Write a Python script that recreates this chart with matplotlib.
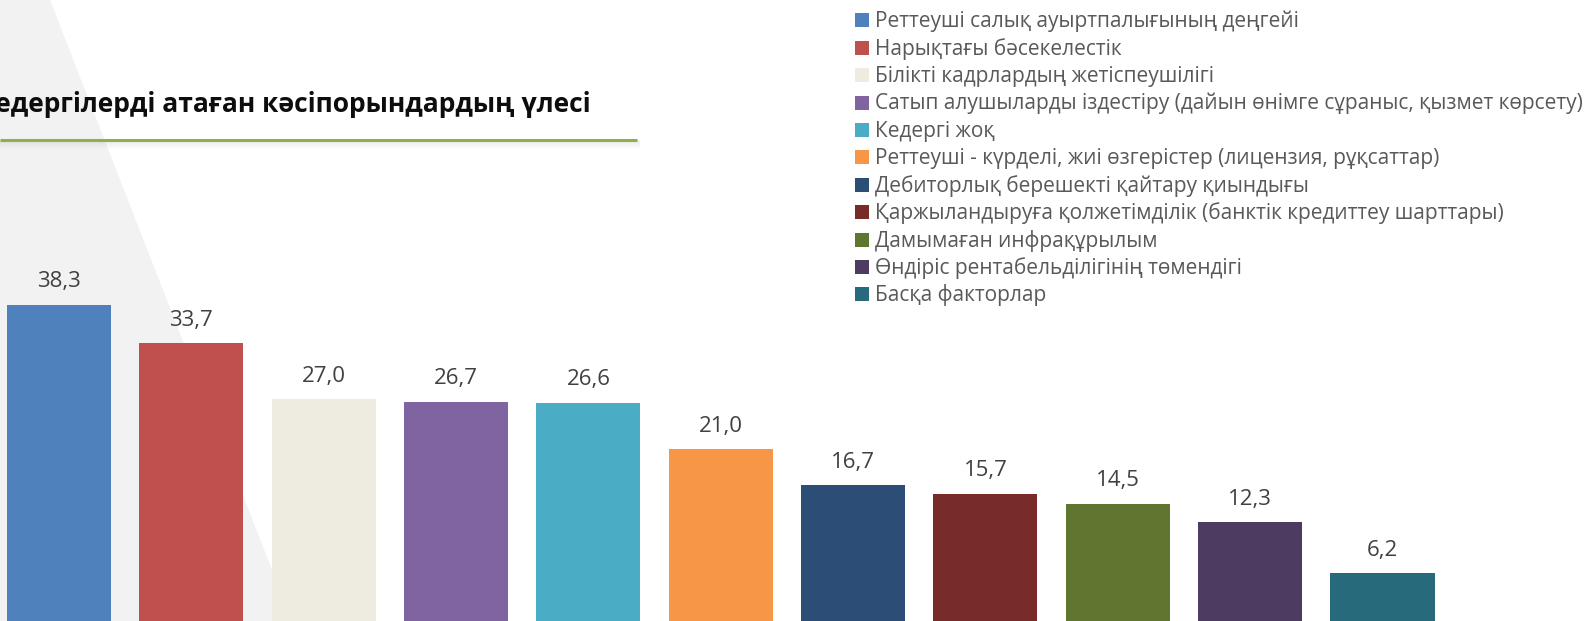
import numpy as np
import matplotlib
matplotlib.use("Agg")
import matplotlib.pyplot as plt
from matplotlib.patches import Polygon, Rectangle

plt.rcParams['font.family'] = ['Open Sans', 'Noto Sans', 'DejaVu Sans']

title = "кедергілерді атаған кәсіпорындардың үлесі"
categories = [
    "Реттеуші салық ауыртпалығының деңгейі",
    "Нарықтағы бәсекелестік",
    "Білікті кадрлардың жетіспеушілігі",
    "Сатып алушыларды іздестіру (дайын өнімге сұраныс, қызмет көрсету)",
    "Кедергі жоқ",
    "Реттеуші - күрделі, жиі өзгерістер (лицензия, рұқсаттар)",
    "Дебиторлық берешекті қайтару қиындығы",
    "Қаржыландыруға қолжетімділік (банктік кредиттеу шарттары)",
    "Дамымаған инфрақұрылым",
    "Өндіріс рентабельділігінің төмендігі",
    "Басқа факторлар",
]
values = [38.3, 33.7, 27.0, 26.7, 26.6, 21.0, 16.7, 15.7, 14.5, 12.3, 6.2]
colors = ["#4F81BD", "#C0504D", "#EEECE1", "#8064A2", "#4BACC6", "#F79646",
          "#2C4D75", "#772C2A", "#5F7530", "#4D3B62", "#276A7C"]

W, H = 1592, 621
fig = plt.figure(figsize=(W / 100, H / 100), dpi=100)
fig.patch.set_facecolor("white")

# background layer in pixel coords (y down)
bg = fig.add_axes([0, 0, 1, 1], zorder=0)
bg.set_xlim(0, W)
bg.set_ylim(H, 0)
bg.axis("off")
bg.add_patch(Polygon([(0, 0), (50, 0), (292, H), (0, H)], closed=True,
                     facecolor="#F2F2F2", edgecolor="none"))

# title underline with soft shadow
for k in range(1, 9):
    bg.plot([0, 640], [140 + k, 140 + k], color="#7F7F7F",
            alpha=0.10 * (1 - k / 9), lw=1.2, solid_capstyle="butt")
bg.plot([0, 637], [140, 140], color="#8DB04A", lw=2.2, solid_capstyle="butt")
# the reference crops the start of the title at the left edge
bg.text(591, 111.7, title, ha="right", va="baseline", fontsize=19,
        fontweight="bold", color="#0D0D0D")

# legend
row0 = 13.3
step = 27.4
for i, (lab, c) in enumerate(zip(categories, colors)):
    y = row0 + step * i
    bg.add_patch(Rectangle((855, y), 14, 14, facecolor=c, edgecolor="none"))
    bg.text(875, y + 14, lab, ha="left", va="baseline", fontsize=15,
            color="#595959")

# bars
ax = fig.add_axes([0, 0, 1, 1], zorder=1)
ax.patch.set_alpha(0)
x0_px, pitch = 59.0, 132.35
ax.set_xlim(-x0_px / pitch, (W - x0_px) / pitch)
ppu = 8.35
zero_px = 624.8
ax.set_ylim((zero_px - H) / ppu, zero_px / ppu)

x = np.arange(len(values))
ax.bar(x, values, width=0.786, color=colors, edgecolor="none")
for xi, v in zip(x, values):
    ax.annotate(f"{v:.1f}".replace(".", ","), (xi, v), xytext=(0, 17.5),
                textcoords="offset pixels", ha="center", va="baseline",
                fontsize=16, color="#404040")
ax.axis("off")

fig.savefig("out.png", dpi=100, facecolor="white")
